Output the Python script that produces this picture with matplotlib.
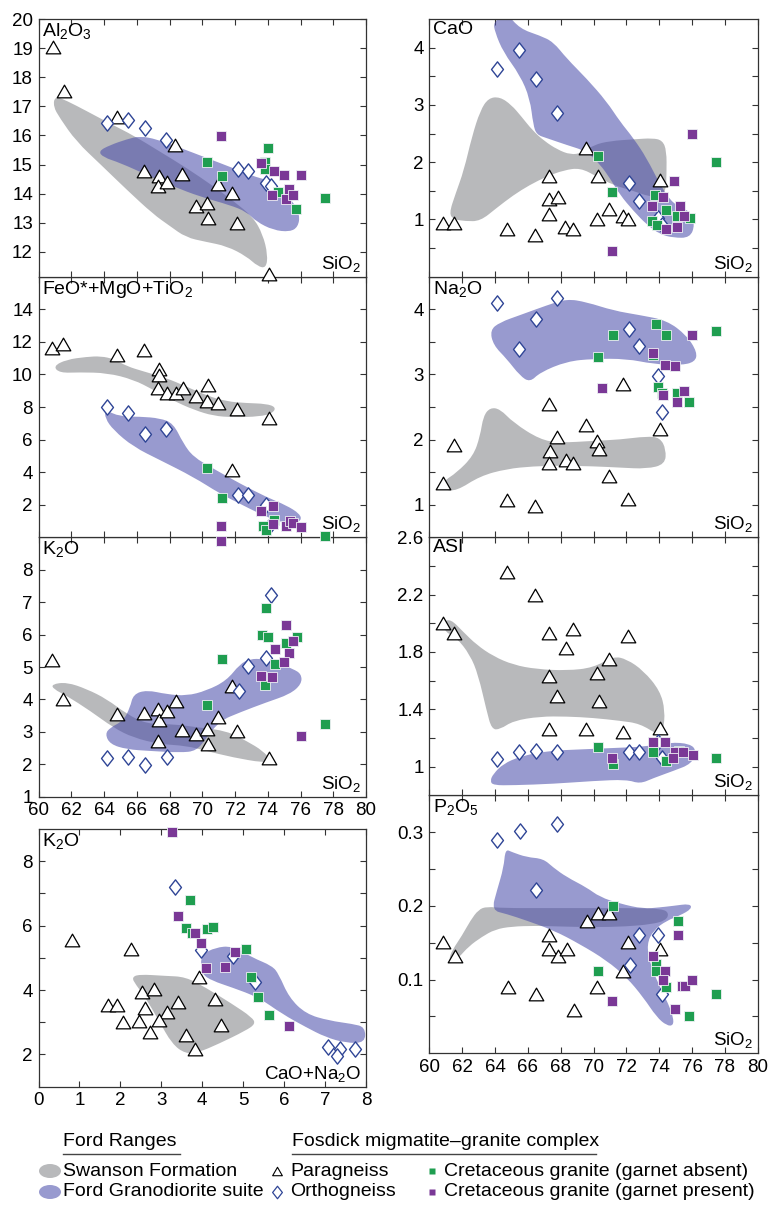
import numpy as np
import matplotlib
matplotlib.use("Agg")
import matplotlib.pyplot as plt
from matplotlib.path import Path
from matplotlib.patches import PathPatch, Ellipse

plt.rcParams["font.family"] = ["Liberation Sans", "DejaVu Sans"]
plt.rcParams["mathtext.fontset"] = "custom"
plt.rcParams["mathtext.rm"] = "Liberation Sans"
plt.rcParams["mathtext.it"] = "Liberation Sans:italic"
plt.rcParams["mathtext.bf"] = "Liberation Sans:bold"

# ---------------- colours ----------------
GRAY = "#b8b9bb"
BLUE = (0.29, 0.30, 0.67)
BLUE_ALPHA = 0.57
GREEN = "#1f9e50"
PURPLE = "#7a3896"
DIAMOND_EDGE = "#2f4596"

# ---------------- Al2O3 vs SiO2 ----------------
al_tri_x = [60.9, 61.57, 64.78, 66.46, 67.36, 67.32, 67.83, 68.78, 68.33, 69.59, 70.26, 70.37, 70.98, 71.83, 72.13, 74.09]
al_tri_y = [19.05, 17.52, 16.62, 14.79, 14.60, 14.28, 14.39, 14.68, 15.69, 13.59, 13.68, 13.15, 14.34, 14.04, 13.00, 11.25]
al_ortho_x = [64.17, 65.49, 66.50, 67.78, 72.20, 72.80, 73.92, 74.17]
al_ortho_y = [16.42, 16.54, 16.27, 15.83, 14.86, 14.79, 14.37, 14.27]
al_ga_x = [70.30, 71.18, 74.02, 73.82, 73.86, 75.75, 77.48, 74.63]
al_ga_y = [15.08, 14.60, 15.58, 15.09, 14.85, 13.46, 13.85, 14.05]
al_gp_x = [71.12, 73.58, 74.39, 74.98, 76.06, 74.29, 75.10, 75.30, 75.55]
al_gp_y = [15.98, 15.06, 14.77, 14.65, 14.63, 13.94, 13.82, 14.17, 13.96]
al_swanson_x = [61.0, 61.7, 62.9, 64.4, 65.8, 67.4, 69.0, 70.7, 71.9, 73.1, 73.7, 74.0, 73.9, 73.4,
                72.7, 71.5, 70.2, 69.0, 68.0, 67.0, 65.4, 63.8, 62.3, 61.3, 60.9]
al_swanson_y = [17.35, 17.2, 16.85, 16.4, 16.0, 15.45, 14.9, 14.25, 13.75, 13.2, 12.6, 11.9, 11.45, 11.5,
                11.85, 12.2, 12.35, 12.5, 12.9, 13.3, 14.13, 15.0, 15.8, 16.6, 17.0]
al_ford_x = [63.66, 64.37, 65.39, 66.2, 67.22, 68.64, 70.26, 71.89, 73.11, 73.92, 74.74, 75.55, 75.96, 75.85,
             75.35, 74.33, 73.31, 72.7, 71.69, 69.86, 68.23, 66.6, 64.98, 63.96]
al_ford_y = [15.46, 15.67, 15.87, 15.98, 15.87, 15.58, 15.23, 14.88, 14.6, 14.48, 14.19, 13.73, 13.27, 12.86,
             12.69, 12.75, 13.04, 13.38, 13.61, 13.9, 14.25, 14.65, 15.06, 15.25]

# ---------------- CaO vs SiO2 ----------------
ca_tri_x = [60.85, 61.50, 64.75, 66.44, 67.29, 67.31, 67.82, 67.29, 68.26, 68.77, 69.52, 70.29, 70.23, 70.94, 71.78, 72.08, 74.05]
ca_tri_y = [0.93, 0.93, 0.84, 0.73, 1.76, 1.35, 1.39, 1.09, 0.87, 0.84, 2.25, 1.76, 1.00, 1.19, 1.06, 1.00, 1.68]
ca_ortho_x = [64.14, 65.46, 66.48, 67.80, 72.18, 72.79, 73.91, 74.15]
ca_ortho_y = [3.62, 3.95, 3.45, 2.85, 1.63, 1.32, 1.02, 0.91]
ca_ga_x = [70.29, 71.15, 73.75, 74.42, 75.07, 75.88, 73.54, 73.85, 77.44]
ca_ga_y = [2.10, 1.48, 1.43, 1.16, 1.06, 1.03, 0.98, 0.91, 2.00]
ca_gp_x = [71.11, 74.90, 74.25, 73.54, 75.27, 75.51, 75.07, 74.42, 76.02]
ca_gp_y = [0.45, 1.67, 1.39, 1.23, 1.23, 1.06, 0.86, 0.83, 2.50]
ca_swanson_x = [61.2, 61.6, 62.1, 62.6, 63.1, 63.6, 64.3, 65.0, 65.6, 66.3, 67.0, 67.8, 68.6, 69.3, 70.0, 71.0,
                72.5, 73.6, 74.2, 74.45, 74.45, 74.4, 73.6, 72.4, 71.2, 70.2, 69.2, 68.2, 67.15, 66.1, 65.1,
                64.1, 63.1, 62.2, 61.5]
ca_swanson_y = [1.1, 1.45, 1.85, 2.45, 2.9, 3.12, 3.14, 3.0, 2.8, 2.55, 2.37, 2.22, 2.13, 2.16, 2.3, 2.37,
                2.4, 2.42, 2.38, 2.2, 1.8, 1.45, 1.38, 1.5, 1.6, 1.75, 1.9, 1.86, 1.75, 1.6, 1.42,
                1.2, 0.97, 0.97, 1.0]
ca_ford_x = [63.9, 64.71, 65.52, 66.74, 67.55, 68.37, 69.58, 70.8, 71.61, 72.43, 73.24, 74.05, 74.86, 75.88,
             76.18, 75.88, 74.86, 74.05, 73.24, 72.43, 71.61, 71.0, 70.4, 69.58, 68.37, 67.15, 66.54, 66.33,
             66.13, 65.52, 64.51, 64.0]
ca_ford_y = [4.45, 4.6, 4.33, 4.21, 4.1, 3.81, 3.46, 3.06, 2.71, 2.42, 2.07, 1.61, 1.26, 1.15,
             0.91, 0.68, 0.68, 0.74, 0.91, 1.15, 1.43, 1.72, 1.96, 2.19, 2.3, 2.42, 2.48, 2.65,
             3.11, 3.52, 3.92, 4.27]

# ---------------- FeO*+MgO+TiO2 vs SiO2 ----------------
fe_tri_x = [60.85, 61.52, 64.78, 66.46, 67.36, 67.36, 67.32, 67.83, 68.37, 68.80, 69.59, 70.26, 70.37, 70.98, 72.13, 74.09, 71.83]
fe_tri_y = [11.63, 11.84, 11.22, 11.47, 10.36, 9.99, 9.16, 8.85, 8.85, 9.16, 8.69, 8.34, 9.33, 8.24, 7.87, 7.35, 4.12]
fe_ortho_x = [64.17, 65.49, 66.50, 67.78, 72.20, 72.80, 73.92, 74.17]
fe_ortho_y = [7.99, 7.66, 6.32, 6.65, 2.62, 2.62, 2.00, 0.83]
fe_ga_x = [70.30, 71.18, 73.70, 73.90, 74.41, 77.48]
fe_ga_y = [4.26, 2.41, 0.72, 0.46, 1.07, 0.06]
fe_gp_x = [73.58, 74.33, 71.12, 71.12, 75.10, 75.35, 75.55, 76.06, 74.33]
fe_gp_y = [1.59, 1.90, 0.68, -0.20, 0.72, 1.03, 0.89, 0.62, 0.83]
fe_swanson_x = [60.9, 61.7, 62.95, 63.8, 64.6, 65.4, 66.4, 67.8, 69.0, 70.3, 71.5, 72.7, 73.9, 74.5,
                74.3, 73.5, 71.9, 70.7, 69.5, 68.2, 67.0, 65.8, 64.2, 62.5, 61.3]
fe_swanson_y = [10.5, 10.91, 11.08, 11.12, 10.95, 10.5, 10.19, 9.78, 9.27, 8.69, 8.34, 8.24, 8.2, 7.99,
                7.62, 7.41, 7.37, 7.45, 7.82, 8.4, 9.06, 9.68, 10.09, 10.13, 10.09]
fe_ford_x = [64.07, 64.98, 66.2, 67.42, 68.23, 68.84, 69.45, 70.67, 72.3, 73.92, 75.14, 75.96, 76.06, 75.55,
             74.74, 73.52, 72.3, 71.08, 69.45, 67.42, 65.79, 64.57, 64.07]
fe_ford_y = [7.82, 7.41, 7.41, 7.31, 7.0, 5.77, 4.94, 4.22, 3.3, 2.47, 1.96, 1.44, 1.03, 0.87,
             0.93, 1.44, 2.06, 2.68, 3.71, 4.74, 5.56, 6.59, 7.31]

# ---------------- Na2O vs SiO2 ----------------
na_tri_x = [60.85, 61.50, 64.75, 66.44, 67.29, 67.80, 67.35, 67.31, 68.30, 68.77, 69.54, 70.19, 70.34, 70.94, 71.78, 72.08, 74.05]
na_tri_y = [1.33, 1.92, 1.08, 0.98, 2.54, 2.04, 1.82, 1.64, 1.69, 1.64, 2.22, 1.98, 1.86, 1.44, 2.86, 1.09, 2.16]
na_ortho_x = [64.14, 65.46, 66.48, 67.80, 72.18, 72.79, 73.95, 74.15]
na_ortho_y = [4.09, 3.39, 3.85, 4.17, 3.69, 3.43, 2.98, 2.43]
na_ga_x = [70.25, 71.17, 73.81, 74.42, 73.91, 74.15, 75.82, 77.44, 75.07, 73.60]
na_ga_y = [3.27, 3.61, 3.78, 3.61, 2.80, 2.72, 2.58, 3.66, 2.71, 3.30]
na_gp_x = [70.54, 73.60, 74.36, 74.96, 76.02, 74.25, 75.10, 75.51]
na_gp_y = [2.79, 3.33, 3.14, 3.13, 3.60, 2.69, 2.57, 2.75]
na_swanson_x = [60.85, 61.66, 63.09, 64.71, 66.33, 67.96, 69.99, 71.61, 73.24, 74.36, 74.42, 74.05, 73.24,
                71.61, 69.99, 67.96, 66.74, 65.12, 64.31, 63.7, 63.29, 63.09, 62.68, 61.66, 60.85]
na_swanson_y = [1.23, 1.21, 1.44, 1.55, 1.59, 1.6, 1.59, 1.57, 1.55, 1.62, 1.85, 2.03, 2.05,
                2.0, 1.98, 1.95, 2.0, 2.26, 2.47, 2.49, 2.36, 2.05, 1.75, 1.49, 1.36]
na_ford_x = [63.7, 64.3, 65.52, 67.15, 68.37, 69.58, 71.21, 72.83, 74.46, 75.67, 76.32, 76.18, 75.27, 73.64,
             72.02, 69.99, 68.37, 66.74, 66.13, 65.52, 64.71, 63.9]
na_ford_y = [3.68, 3.8, 3.91, 4.06, 4.16, 4.11, 3.98, 3.91, 3.83, 3.6, 3.34, 3.19, 3.14, 3.16,
             3.24, 3.24, 3.2, 3.03, 2.88, 2.98, 3.24, 3.45]

# ---------------- K2O vs SiO2 ----------------
k_tri_x = [60.85, 61.52, 64.78, 66.46, 67.32, 67.38, 67.32, 67.87, 68.37, 68.78, 69.59, 70.26, 70.37, 70.98, 71.83, 72.13, 74.09]
k_tri_y = [5.23, 4.01, 3.55, 3.57, 3.72, 3.36, 2.72, 3.65, 3.96, 3.06, 2.93, 3.08, 2.64, 3.46, 4.42, 3.03, 2.19]
k_ortho_x = [64.17, 65.49, 66.50, 67.83, 72.24, 72.80, 73.92, 74.17]
k_ortho_y = [2.18, 2.21, 1.97, 2.23, 4.25, 5.02, 5.27, 7.23]
k_ga_x = [71.18, 70.30, 73.92, 73.66, 74.02, 75.10, 74.43, 73.86, 75.81, 77.48]
k_ga_y = [5.25, 3.82, 6.81, 5.99, 5.92, 5.73, 5.09, 4.44, 5.92, 3.24]
k_gp_x = [75.14, 74.43, 75.30, 74.98, 75.55, 73.58, 74.29, 76.06]
k_gp_y = [6.30, 5.54, 5.43, 5.14, 5.81, 4.73, 4.70, 2.86]
k_swanson_x = [60.81, 61.73, 62.95, 64.17, 65.39, 66.61, 68.23, 69.86, 71.48, 72.7, 73.72, 74.23, 73.72,
               71.89, 70.26, 69.04, 67.42, 65.79, 64.57, 63.15, 61.73, 60.91]
k_swanson_y = [4.47, 4.53, 4.32, 4.01, 3.55, 3.24, 3.24, 3.13, 3.03, 2.72, 2.41, 2.1, 2.05,
               2.21, 2.41, 2.57, 2.62, 2.82, 3.13, 3.65, 4.11, 4.32]
k_ford_x = [64.07, 64.37, 65.39, 66.81, 68.64, 69.65, 70.26, 71.08, 72.3, 73.92, 75.35, 76.06, 76.06, 75.55,
            74.74, 73.72, 72.91, 72.3, 71.48, 70.26, 69.04, 67.83, 66.61, 65.79, 65.59, 65.18, 64.37]
k_ford_y = [2.93, 2.62, 2.46, 2.41, 2.36, 2.41, 2.82, 3.34, 3.6, 3.91, 4.16, 4.47, 4.78, 4.94,
            5.09, 5.25, 5.25, 5.09, 4.58, 4.27, 4.11, 4.16, 4.29, 4.16, 3.75, 3.34, 3.13]

# ---------------- ASI vs SiO2 ----------------
asi_tri_x = [60.85, 61.50, 64.75, 66.44, 67.31, 68.77, 68.32, 67.31, 67.80, 70.23, 70.34, 70.94, 72.08, 67.31, 69.52, 71.78, 74.05]
asi_tri_y = [2.00, 1.93, 2.36, 2.20, 1.93, 1.96, 1.83, 1.63, 1.49, 1.65, 1.46, 1.75, 1.91, 1.26, 1.26, 1.24, 1.27]
asi_ortho_x = [64.14, 65.46, 66.48, 67.80, 72.18, 72.79, 73.95, 74.15]
asi_ortho_y = [1.05, 1.10, 1.11, 1.10, 1.10, 1.10, 1.17, 1.06]
asi_ga_x = [70.25, 71.17, 73.65, 74.40, 77.44, 75.19]
asi_ga_y = [1.14, 1.02, 1.10, 1.04, 1.06, 1.11]
asi_gp_x = [71.13, 73.61, 74.36, 74.96, 75.47, 76.04, 74.86]
asi_gp_y = [1.06, 1.17, 1.17, 1.10, 1.10, 1.08, 1.06]
asi_swanson_x = [60.85, 61.3, 62.07, 62.88, 63.9, 65.12, 66.54, 68.37, 69.99, 71.21, 72.02, 73.04, 74.05, 74.36,
                 74.25, 73.95, 72.83, 71.61, 69.99, 68.37, 66.74, 65.12, 64.31, 63.8, 63.49, 62.98, 62.48,
                 61.66, 60.95]
asi_swanson_y = [2.01, 2.03, 1.94, 1.85, 1.77, 1.71, 1.68, 1.67, 1.69, 1.77, 1.75, 1.67, 1.53, 1.39,
                 1.25, 1.22, 1.3, 1.32, 1.34, 1.35, 1.35, 1.32, 1.26, 1.26, 1.39, 1.64, 1.78,
                 1.9, 1.94]
asi_ford_x = [63.7, 63.9, 64.51, 65.52, 67.15, 69.18, 71.21, 73.24, 74.66, 75.88, 76.28, 75.98, 74.86, 73.65,
              72.83, 72.02, 69.99, 67.55, 65.12, 63.9]
asi_ford_y = [0.9, 0.95, 1.02, 1.07, 1.11, 1.12, 1.13, 1.14, 1.17, 1.16, 1.11, 1.02, 0.97, 0.92,
              0.88, 0.91, 0.9, 0.88, 0.87, 0.87]

# ---------------- P2O5 vs SiO2 ----------------
p_tri_x = [60.85, 61.56, 64.81, 66.48, 67.31, 67.31, 67.86, 68.37, 68.83, 69.58, 70.29, 70.96, 70.23, 71.78, 72.12, 74.05]
p_tri_y = [0.151, 0.132, 0.090, 0.080, 0.161, 0.142, 0.132, 0.142, 0.059, 0.180, 0.190, 0.190, 0.090, 0.111, 0.151, 0.142]
p_ortho_x = [64.14, 65.52, 67.80, 66.48, 72.79, 73.95, 72.22, 74.15]
p_ortho_y = [0.290, 0.301, 0.311, 0.221, 0.160, 0.160, 0.120, 0.080]
p_ga_x = [71.17, 75.13, 70.25, 73.81, 73.81, 74.42, 75.84, 77.44]
p_ga_y = [0.200, 0.180, 0.111, 0.121, 0.111, 0.090, 0.050, 0.081]
p_gp_x = [75.13, 73.60, 74.35, 74.25, 75.37, 75.57, 76.02, 74.96, 71.11]
p_gp_y = [0.160, 0.132, 0.111, 0.100, 0.091, 0.091, 0.100, 0.060, 0.071]
p_swanson_x = [61.3, 61.8, 62.4, 63.2, 64.0, 65.0, 66.5, 68.0, 70.0, 72.0, 73.5, 74.4, 74.6, 74.2,
               72.5, 70.0, 67.0, 64.5, 63.5, 63.0, 62.5, 62.0, 61.4, 61.2]
p_swanson_y = [0.122, 0.13, 0.145, 0.158, 0.168, 0.172, 0.173, 0.172, 0.171, 0.172, 0.175, 0.18, 0.19, 0.196,
               0.197, 0.197, 0.197, 0.197, 0.199, 0.195, 0.18, 0.16, 0.14, 0.128]
p_ford_x = [63.8, 64.12, 64.53, 64.63, 65.03, 65.93, 66.94, 67.55, 68.37, 69.58, 70.39, 71.61, 73.03, 74.05,
            74.86, 75.88, 75.98, 75.27, 74.46, 73.65, 73.24, 73.44, 74.05, 74.56, 74.86, 74.86, 74.46, 73.85,
            73.03, 72.02, 70.8, 69.18, 67.55, 65.93, 64.71]
p_ford_y = [0.194, 0.221, 0.252, 0.277, 0.273, 0.266, 0.264, 0.252, 0.239, 0.225, 0.212, 0.203, 0.196, 0.198,
            0.2, 0.203, 0.196, 0.187, 0.18, 0.167, 0.148, 0.121, 0.0896, 0.067, 0.0489, 0.0376, 0.0376, 0.049,
            0.076, 0.103, 0.126, 0.148, 0.167, 0.18, 0.189]

# ---------------- K2O vs CaO+Na2O ----------------
kc_tri_x = [0.82, 2.27, 1.70, 1.92, 2.06, 2.46, 2.53, 2.61, 2.81, 2.73, 3.14, 2.95, 3.41, 3.61, 3.82, 3.92, 4.32, 4.45]
kc_tri_y = [5.55, 5.27, 3.54, 3.54, 3.00, 3.05, 3.95, 3.43, 4.03, 2.69, 3.31, 3.08, 3.62, 2.61, 2.18, 4.42, 3.72, 2.92]
kc_ortho_x = [3.33, 3.97, 4.75, 5.29, 7.06, 7.36, 7.30, 7.73]
kc_ortho_y = [7.20, 5.25, 5.06, 4.24, 2.23, 2.18, 1.94, 2.18]
kc_ga_x = [3.69, 3.61, 3.75, 4.12, 4.26, 5.07, 5.20, 5.37, 5.64]
kc_ga_y = [6.81, 5.94, 5.76, 5.91, 5.97, 5.27, 4.42, 3.79, 3.23]
kc_gp_x = [3.25, 3.41, 3.83, 3.96, 4.09, 4.55, 4.80, 6.12]
kc_gp_y = [8.91, 6.30, 5.78, 5.47, 4.70, 4.73, 5.19, 2.87]
kc_swanson_x = [2.28, 2.45, 3.1, 3.59, 4.08, 4.73, 5.22, 5.3, 5.06, 4.4, 3.92, 3.59, 3.26, 2.94, 2.61, 2.37]
kc_swanson_y = [4.39, 4.49, 4.44, 4.41, 4.08, 3.57, 3.15, 2.95, 2.74, 2.33, 2.07, 2.02, 2.33, 3.05, 3.77, 4.18]
kc_ford_x = [4.0, 4.32, 4.73, 5.22, 5.71, 5.87, 6.12, 6.53, 7.1, 7.67, 7.98, 7.98, 7.5, 7.01, 6.53, 5.95,
             5.38, 4.73, 4.24, 4.0, 3.96]
kc_ford_y = [5.11, 5.32, 5.37, 5.01, 4.75, 4.49, 3.77, 3.26, 3.05, 2.95, 2.85, 2.36, 2.36, 2.54, 2.85, 3.26,
             3.77, 4.08, 4.29, 4.49, 4.8]

# ---------------- tick labels ----------------
sio2_ticks = [60, 62, 64, 66, 68, 70, 72, 74, 76, 78, 80]
kc_xticks = [0, 1, 2, 3, 4, 5, 6, 7, 8]

# Marker shapes
TRI_PATH = Path([(0, 1), (-1.15, -1), (1.15, -1), (0, 1)],
                [Path.MOVETO, Path.LINETO, Path.LINETO, Path.CLOSEPOLY])
DIA_PATH = Path([(0, 1), (0.78, 0), (0, -1), (-0.78, 0), (0, 1)],
                [Path.MOVETO, Path.LINETO, Path.LINETO, Path.LINETO, Path.CLOSEPOLY])


def smooth_region(ax, xs, ys, **kw):
    """Closed outline rendered with quadratic Bezier segments between edge midpoints."""
    pts = np.column_stack([xs, ys]).astype(float)
    mids = (pts + np.roll(pts, -1, axis=0)) / 2.0
    verts = [mids[-1]]
    codes = [Path.MOVETO]
    for i in range(len(pts)):
        verts += [pts[i], mids[i]]
        codes += [Path.CURVE3, Path.CURVE3]
    verts.append(mids[-1])
    codes.append(Path.CLOSEPOLY)
    ax.add_patch(PathPatch(Path(verts, codes), lw=0, **kw))


def draw_panel(ax, swanson, ford, tri, ortho, ga, gp):
    smooth_region(ax, *swanson, facecolor=GRAY, zorder=1)
    smooth_region(ax, *ford, facecolor=BLUE, alpha=BLUE_ALPHA, zorder=2)
    ax.plot(*tri, ls="none", marker=TRI_PATH, ms=10.5, mfc="white", mec="black",
            mew=0.9, zorder=4, clip_on=False)
    ax.plot(*ortho, ls="none", marker=DIA_PATH, ms=11, mfc="white", mec=DIAMOND_EDGE,
            mew=1.0, zorder=5, clip_on=False)
    ax.plot(*ga, ls="none", marker="s", ms=7, mfc=GREEN, mec="#eef0f4",
            mew=0.6, zorder=6, clip_on=False)
    ax.plot(*gp, ls="none", marker="s", ms=7, mfc=PURPLE, mec="#eef0f4",
            mew=0.6, zorder=7, clip_on=False)


def style_axes(ax, xlim, ylim, xticks, yticks, ylabels, yminor=None, xlabels=None):
    ax.set_xlim(*xlim)
    ax.set_ylim(*ylim)
    ax.set_xticks(xticks)
    ax.set_yticks(yticks)
    ax.set_yticklabels(ylabels)
    if yminor is not None:
        ax.set_yticks(yminor, minor=True)
    ax.tick_params(which="both", direction="in", top=True, right=True, length=4.2,
                   width=0.8, color="#333333", labelsize=13.5, pad=4)
    if xlabels is None:
        ax.tick_params(labelbottom=False)
    else:
        ax.set_xticklabels(xlabels)
    for sp in ax.spines.values():
        sp.set_linewidth(0.9)
        sp.set_color("#333333")


def corner_label(ax, text, size=14):
    ax.annotate(text, xy=(0, 1), xycoords="axes fraction", xytext=(4, -2),
                textcoords="offset pixels", ha="left", va="top", fontsize=size, zorder=10)


def axis_label(ax, text, size=13.5):
    ax.annotate(text, xy=(1, 0), xycoords="axes fraction", xytext=(-5, 3),
                textcoords="offset pixels", ha="right", va="bottom", fontsize=size, zorder=10)


W, H = 771, 1205
fig = plt.figure(figsize=(W / 100, H / 100), dpi=100)


def rect(left, top, right, bottom):
    return [left / W, 1 - bottom / H, (right - left) / W, (bottom - top) / H]


LX0, LX1 = 38.5, 366.0
RX0, RX1 = 429.3, 757.7

# Left column, added bottom-up so upper panels overlay the shared edges
ax_kc = fig.add_axes(rect(LX0, 829.0, LX1, 1086.7))
ax_k = fig.add_axes(rect(LX0, 537.3, LX1, 796.7))
ax_fe = fig.add_axes(rect(LX0, 276.7, LX1, 537.3))
ax_al = fig.add_axes(rect(LX0, 19.0, LX1, 276.7))
# Right column
ax_p = fig.add_axes(rect(RX0, 795.3, RX1, 1053.3))
ax_asi = fig.add_axes(rect(RX0, 537.3, RX1, 795.3))
ax_na = fig.add_axes(rect(RX0, 276.7, RX1, 537.3))
ax_ca = fig.add_axes(rect(RX0, 19.0, RX1, 276.7))

# Al2O3
draw_panel(ax_al, (al_swanson_x, al_swanson_y), (al_ford_x, al_ford_y), (al_tri_x, al_tri_y),
           (al_ortho_x, al_ortho_y), (al_ga_x, al_ga_y), (al_gp_x, al_gp_y))
style_axes(ax_al, (60, 80), (11.15, 20), sio2_ticks, list(range(12, 21)),
           [str(v) for v in range(12, 21)])
corner_label(ax_al, "Al$_2$O$_3$")
axis_label(ax_al, "SiO$_2$")

# FeO*+MgO+TiO2
draw_panel(ax_fe, (fe_swanson_x, fe_swanson_y), (fe_ford_x, fe_ford_y), (fe_tri_x, fe_tri_y),
           (fe_ortho_x, fe_ortho_y), (fe_ga_x, fe_ga_y), (fe_gp_x, fe_gp_y))
style_axes(ax_fe, (60, 80), (0, 16), sio2_ticks, [2, 4, 6, 8, 10, 12, 14],
           ["2", "4", "6", "8", "10", "12", "14"])
corner_label(ax_fe, "FeO*+MgO+TiO$_2$")
axis_label(ax_fe, "SiO$_2$")

# K2O vs SiO2
draw_panel(ax_k, (k_swanson_x, k_swanson_y), (k_ford_x, k_ford_y), (k_tri_x, k_tri_y),
           (k_ortho_x, k_ortho_y), (k_ga_x, k_ga_y), (k_gp_x, k_gp_y))
style_axes(ax_k, (60, 80), (1, 9), sio2_ticks, list(range(1, 9)),
           [str(v) for v in range(1, 9)], xlabels=[str(v) for v in sio2_ticks])
corner_label(ax_k, "K$_2$O")
axis_label(ax_k, "SiO$_2$")

# K2O vs CaO+Na2O
draw_panel(ax_kc, (kc_swanson_x, kc_swanson_y), (kc_ford_x, kc_ford_y), (kc_tri_x, kc_tri_y),
           (kc_ortho_x, kc_ortho_y), (kc_ga_x, kc_ga_y), (kc_gp_x, kc_gp_y))
style_axes(ax_kc, (0, 8), (1, 9), kc_xticks, [2, 4, 6, 8], ["2", "4", "6", "8"],
           yminor=[3, 5, 7], xlabels=[str(v) for v in kc_xticks])
corner_label(ax_kc, "K$_2$O")
axis_label(ax_kc, "CaO+Na$_2$O")

# CaO
draw_panel(ax_ca, (ca_swanson_x, ca_swanson_y), (ca_ford_x, ca_ford_y), (ca_tri_x, ca_tri_y),
           (ca_ortho_x, ca_ortho_y), (ca_ga_x, ca_ga_y), (ca_gp_x, ca_gp_y))
style_axes(ax_ca, (60, 80), (0, 4.5), sio2_ticks, [1, 2, 3, 4], ["1", "2", "3", "4"],
           yminor=[0.5, 1.5, 2.5, 3.5])
corner_label(ax_ca, "CaO")
axis_label(ax_ca, "SiO$_2$")

# Na2O
draw_panel(ax_na, (na_swanson_x, na_swanson_y), (na_ford_x, na_ford_y), (na_tri_x, na_tri_y),
           (na_ortho_x, na_ortho_y), (na_ga_x, na_ga_y), (na_gp_x, na_gp_y))
style_axes(ax_na, (60, 80), (0.5, 4.5), sio2_ticks, [1, 2, 3, 4], ["1", "2", "3", "4"],
           yminor=[1.5, 2.5, 3.5])
corner_label(ax_na, "Na$_2$O")
axis_label(ax_na, "SiO$_2$")

# ASI
draw_panel(ax_asi, (asi_swanson_x, asi_swanson_y), (asi_ford_x, asi_ford_y), (asi_tri_x, asi_tri_y),
           (asi_ortho_x, asi_ortho_y), (asi_ga_x, asi_ga_y), (asi_gp_x, asi_gp_y))
style_axes(ax_asi, (60, 80), (0.8, 2.6), sio2_ticks, [1.0, 1.4, 1.8, 2.2, 2.6],
           ["1", "1.4", "1.8", "2.2", "2.6"], yminor=[1.2, 1.6, 2.0, 2.4])
corner_label(ax_asi, "ASI")
axis_label(ax_asi, "SiO$_2$")

# P2O5
draw_panel(ax_p, (p_swanson_x, p_swanson_y), (p_ford_x, p_ford_y), (p_tri_x, p_tri_y),
           (p_ortho_x, p_ortho_y), (p_ga_x, p_ga_y), (p_gp_x, p_gp_y))
style_axes(ax_p, (60, 80), (0, 0.35), sio2_ticks, [0.1, 0.2, 0.3], ["0.1", "0.2", "0.3"],
           yminor=[0.05, 0.15, 0.25], xlabels=[str(v) for v in sio2_ticks])
corner_label(ax_p, "P$_2$O$_5$")
axis_label(ax_p, "SiO$_2$")

# ---------------- legend ----------------
lax = fig.add_axes([0, 0, 1, 85 / H])
lax.set_xlim(0, W)
lax.set_ylim(H, H - 85)
lax.axis("off")
LFS = 14
lax.text(63, 1142, "Ford Ranges", fontsize=LFS, va="center", ha="left")
lax.plot([63, 180], [1154, 1154], color="#444444", lw=1.0)
lax.text(292, 1142, "Fosdick migmatite\u2013granite complex", fontsize=LFS, va="center", ha="left")
lax.plot([292, 596], [1154, 1154], color="#444444", lw=1.0)

lax.add_patch(Ellipse((50, 1171), 22, 14, facecolor=GRAY, lw=0))
lax.add_patch(Ellipse((50, 1192), 22, 14, facecolor=BLUE, alpha=BLUE_ALPHA, lw=0))
lax.text(63, 1171, "Swanson Formation", fontsize=LFS, va="center", ha="left")
lax.text(63, 1192, "Ford Granodiorite suite", fontsize=LFS, va="center", ha="left")

lax.plot([277], [1171], marker=TRI_PATH, ms=7, mfc="white", mec="black", mew=0.8, ls="none")
lax.plot([277], [1192], marker=DIA_PATH, ms=9, mfc="white", mec=DIAMOND_EDGE, mew=0.9, ls="none")
lax.text(290, 1171, "Paragneiss", fontsize=LFS, va="center", ha="left")
lax.text(290, 1192, "Orthogneiss", fontsize=LFS, va="center", ha="left")

lax.plot([432], [1171], marker="s", ms=5, mfc=GREEN, mec="none", ls="none")
lax.plot([432], [1192], marker="s", ms=5, mfc=PURPLE, mec="none", ls="none")
lax.text(444, 1171, "Cretaceous granite (garnet absent)", fontsize=LFS, va="center", ha="left")
lax.text(444, 1192, "Cretaceous granite (garnet present)", fontsize=LFS, va="center", ha="left")

fig.savefig("out.png", dpi=100, facecolor="white")
